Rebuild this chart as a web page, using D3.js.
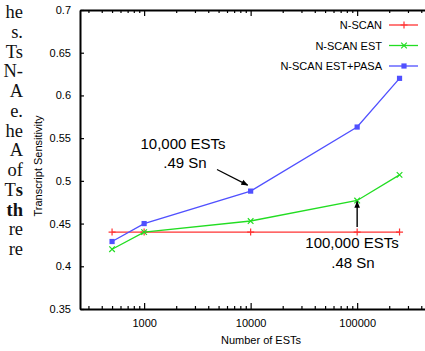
<!DOCTYPE html>
<html><head><meta charset="utf-8">
<script src="https://cdn.jsdelivr.net/npm/d3@7"></script>
<style>
body{margin:0;background:#fff;}
svg{display:block;}
</style></head>
<body>
<script>
// Data
const estCounts = [500, 1000, 10000, 100000, 250000];
const nscan = [0.44, 0.44, 0.44, 0.44, 0.44];
const nscanEst = [0.42, 0.44, 0.453, 0.477, 0.507];
const nscanEstPasa = [0.429, 0.45, 0.488, 0.563, 0.62];
const seriesNames = ["N-SCAN", "N-SCAN EST", "N-SCAN EST+PASA"];
const seriesColors = ["#ff3333", "#22dd22", "#5050ff"];
const yTickValues = [0.35, 0.4, 0.45, 0.5, 0.55, 0.6, 0.65, 0.7];
const yTickLabels = ["0.35", "0.4", "0.45", "0.5", "0.55", "0.6", "0.65", "0.7"];
const xTickValues = [1000, 10000, 100000];
const xTickLabels = ["1000", "10000", "100000"];
const sideText = [["he", ""], ["s.", ""], ["Ts", ""], ["N-", ""], ["A", ""], ["e.", ""], ["he", ""], ["A", ""], ["of", ""], ["T", "s"], ["", "th"], ["re", ""], ["re", ""]];
const notes = [
  {x: 10000, y: 0.488, lines: ["10,000 ESTs", ".49 Sn"]},
  {x: 100000, y: 0.477, lines: ["100,000 ESTs", ".48 Sn"]}
];

const W = 425, H = 351;
const svg = d3.select("body").append("svg").attr("width", W).attr("height", H);

const x = d3.scaleLog().domain([250, 500000]).range([80, 431.6]);
const y = d3.scaleLinear().domain([0.35, 0.7]).range([309, 10]);

// side paper text (normal part + bold part)
const st = svg.append("g").attr("font-family", "Liberation Serif, Times New Roman, serif").attr("font-size", 18.5).attr("fill", "#111");
sideText.forEach((t, i) => {
  const tx = st.append("text").attr("x", 23).attr("y", 18 + i * 19.75).attr("text-anchor", "end");
  if (t[0]) tx.append("tspan").text(t[0]);
  if (t[1]) tx.append("tspan").attr("font-weight", "bold").text(t[1]);
});

// minor ticks
const minors = [];
for (let e = 2; e <= 5; e++) for (let k = 2; k <= 9; k++) { const v = k * Math.pow(10, e); if (v >= 250 && v <= 500000) minors.push(v); }

const axG = svg.append("g").attr("font-family", "Liberation Sans, Arial, sans-serif");

function styleAxis(g) {
  g.selectAll("path.domain").attr("stroke", "#000").attr("stroke-width", 2);
  g.selectAll(".tick line").attr("stroke", "#000").attr("stroke-width", 1.2);
  g.selectAll(".tick text").attr("font-size", 11).attr("fill", "#000").attr("font-family", "Liberation Sans, Arial, sans-serif");
}

// bottom axis
const xb = axG.append("g").attr("transform", "translate(0,309)")
  .call(d3.axisBottom(x).tickValues(xTickValues).tickSizeInner(-6).tickSizeOuter(0).tickPadding(10)
    .tickFormat((d, i) => xTickLabels[i]));
styleAxis(xb);
const xbm = axG.append("g").attr("transform", "translate(0,309)")
  .call(d3.axisBottom(x).tickValues(minors).tickSizeInner(-3).tickSizeOuter(0).tickFormat(""));
xbm.select("path.domain").remove();
styleAxis(xbm);

// top axis
const xt = axG.append("g").attr("transform", "translate(0,10)")
  .call(d3.axisTop(x).tickValues(xTickValues).tickSizeInner(-6).tickSizeOuter(0).tickFormat(""));
styleAxis(xt);
const xtm = axG.append("g").attr("transform", "translate(0,10)")
  .call(d3.axisTop(x).tickValues(minors).tickSizeInner(-3).tickSizeOuter(0).tickFormat(""));
xtm.select("path.domain").remove();
styleAxis(xtm);

// left axis
const yl = axG.append("g").attr("transform", "translate(80,0)")
  .call(d3.axisLeft(y).tickValues(yTickValues).tickSizeInner(-4).tickSizeOuter(0).tickPadding(9)
    .tickFormat((d, i) => yTickLabels[i]));
styleAxis(yl);

// axis titles
svg.append("text").attr("x", 261).attr("y", 344).attr("text-anchor", "middle")
  .attr("font-family", "Liberation Sans, Arial, sans-serif").attr("font-size", 11).text("Number of ESTs");
svg.append("text").attr("transform", "translate(42,166) rotate(-90)").attr("text-anchor", "middle")
  .attr("font-family", "Liberation Sans, Arial, sans-serif").attr("font-size", 11).text("Transcript Sensitivity");

// series
const allSeries = [nscan, nscanEst, nscanEstPasa];
const line = d3.line().x(d => x(d[0])).y(d => y(d[1]));

function marker(g, type, cx, cy, color) {
  if (type === 0) {
    g.append("path").attr("d", `M${cx - 3.5},${cy}H${cx + 3.5}M${cx},${cy - 3.5}V${cy + 3.5}`).attr("stroke", color).attr("stroke-width", 1.2);
  } else if (type === 1) {
    g.append("path").attr("d", `M${cx - 2.8},${cy - 2.8}L${cx + 2.8},${cy + 2.8}M${cx - 2.8},${cy + 2.8}L${cx + 2.8},${cy - 2.8}`).attr("stroke", color).attr("stroke-width", 1.2);
  } else {
    g.append("rect").attr("x", cx - 2.6).attr("y", cy - 2.6).attr("width", 5.2).attr("height", 5.2).attr("fill", color);
  }
}

allSeries.forEach((vals, si) => {
  const pts = estCounts.map((c, i) => [c, vals[i]]);
  const g = svg.append("g");
  g.append("path").datum(pts).attr("d", line).attr("fill", "none").attr("stroke", seriesColors[si]).attr("stroke-width", 1.3);
  pts.forEach(p => marker(g, si, x(p[0]), y(p[1]), seriesColors[si]));
});

// legend
const lg = svg.append("g").attr("font-family", "Liberation Sans, Arial, sans-serif").attr("font-size", 11);
seriesNames.forEach((n, i) => {
  const yy = 25 + i * 20.5;
  lg.append("text").attr("x", 382).attr("y", yy + 4).attr("text-anchor", "end").text(n);
  lg.append("line").attr("x1", 389).attr("x2", 418).attr("y1", yy).attr("y2", yy).attr("stroke", seriesColors[i]).attr("stroke-width", 1.3);
  marker(lg, i, 404, yy, seriesColors[i]);
});

// annotations
svg.append("defs").append("marker").attr("id", "ah").attr("viewBox", "0 0 10 10").attr("refX", 9).attr("refY", 5)
  .attr("markerWidth", 7).attr("markerHeight", 7).attr("orient", "auto-start-reverse").attr("markerUnits", "userSpaceOnUse")
  .append("path").attr("d", "M0,1L10,5L0,9Z").attr("fill", "#000");

const an = svg.append("g").attr("font-family", "Liberation Sans, Arial, sans-serif").attr("font-size", 15).attr("fill", "#000");
// 10,000 note
an.append("text").attr("x", 183).attr("y", 149).attr("text-anchor", "middle").text(notes[0].lines[0]);
an.append("text").attr("x", 185).attr("y", 168).attr("text-anchor", "middle").text(notes[0].lines[1]);
svg.append("line").attr("x1", 217).attr("y1", 169.5).attr("x2", x(notes[0].x) - 3).attr("y2", y(notes[0].y) - 6)
  .attr("stroke", "#000").attr("stroke-width", 1.2).attr("marker-end", "url(#ah)");
// 100,000 note
an.append("text").attr("x", 352).attr("y", 248).attr("text-anchor", "middle").text(notes[1].lines[0]);
an.append("text").attr("x", 353).attr("y", 268).attr("text-anchor", "middle").text(notes[1].lines[1]);
svg.append("line").attr("x1", x(notes[1].x)).attr("y1", 227).attr("x2", x(notes[1].x)).attr("y2", y(notes[1].y) + 1)
  .attr("stroke", "#000").attr("stroke-width", 1.4).attr("marker-end", "url(#ah)");
</script>
</body></html>
